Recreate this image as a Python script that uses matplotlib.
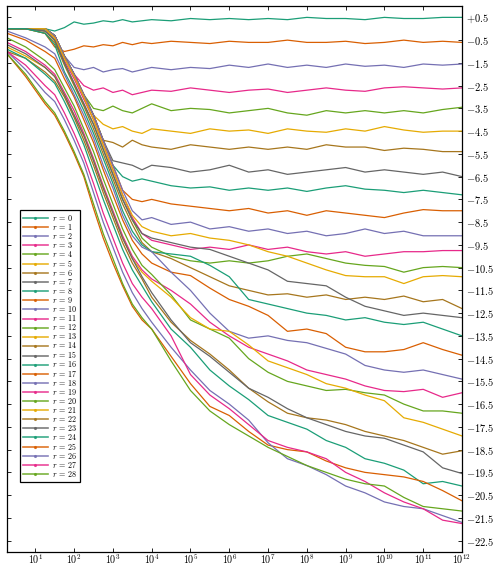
import matplotlib
matplotlib.use("Agg")
import matplotlib.pyplot as plt
from matplotlib.lines import Line2D
import numpy as np

log_steps = [0.27, 0.75, 1.25, 1.5, 1.75, 2.0, 2.25, 2.5, 2.75, 3.0, 3.25, 3.5, 3.75, 4.0,
             4.5, 5.0, 5.5, 6.0, 6.5, 7.0, 7.5, 8.0, 8.5, 9.0, 9.5, 10.0, 10.5, 11.0, 11.5, 12.0]

walk_00 = [0, 0, 0, -0.1, 0.05, 0.3, 0.2, 0.25, 0.35, 0.3, 0.4, 0.3, 0.35, 0.4,
           0.35, 0.45, 0.4, 0.45, 0.4, 0.45, 0.4, 0.5, 0.45, 0.45, 0.4, 0.5, 0.45, 0.45, 0.5, 0.5]
walk_01 = [0, 0, -0.2, -0.8, -1.0, -0.9, -0.75, -0.8, -0.7, -0.75, -0.6, -0.7, -0.6, -0.65,
           -0.55, -0.6, -0.65, -0.55, -0.6, -0.6, -0.5, -0.6, -0.6, -0.55, -0.65, -0.6, -0.5, -0.6, -0.55, -0.6]
walk_02 = [0, 0, 0, -0.3, -1.2, -1.7, -1.8, -1.7, -1.9, -1.8, -1.75, -1.9, -1.8, -1.7,
           -1.8, -1.7, -1.75, -1.6, -1.7, -1.55, -1.7, -1.6, -1.7, -1.55, -1.65, -1.6, -1.7, -1.55, -1.6, -1.55]
walk_03 = [0, 0, 0, -0.3, -1.2, -2.0, -2.5, -2.7, -2.6, -2.8, -2.7, -2.9, -2.8, -2.7,
           -2.75, -2.6, -2.7, -2.8, -2.7, -2.65, -2.8, -2.7, -2.6, -2.7, -2.75, -2.6, -2.55, -2.6, -2.65, -2.6]
walk_04 = [0, 0, 0, -0.3, -1.2, -2.0, -2.9, -3.5, -3.6, -3.4, -3.6, -3.7, -3.5, -3.3,
           -3.6, -3.5, -3.55, -3.7, -3.6, -3.5, -3.7, -3.8, -3.6, -3.7, -3.6, -3.7, -3.6, -3.7, -3.55, -3.45]
walk_05 = [0, 0, 0, -0.3, -1.2, -2.0, -2.9, -3.8, -4.2, -4.4, -4.3, -4.5, -4.6, -4.4,
           -4.5, -4.6, -4.4, -4.5, -4.45, -4.6, -4.4, -4.5, -4.55, -4.4, -4.5, -4.3, -4.45, -4.55, -4.5, -4.5]
walk_06 = [0, 0, 0, -0.3, -1.2, -2.0, -2.9, -3.8, -4.9, -5.0, -5.2, -4.9, -5.1, -5.2,
           -5.3, -5.1, -5.2, -5.3, -5.2, -5.3, -5.2, -5.3, -5.1, -5.2, -5.2, -5.35, -5.25, -5.3, -5.4, -5.4]
walk_07 = [0, 0, 0, -0.3, -1.2, -2.0, -2.9, -3.8, -4.9, -5.8, -5.9, -6.0, -6.2, -6.0,
           -6.1, -6.3, -6.2, -6.0, -6.3, -6.2, -6.4, -6.3, -6.2, -6.1, -6.3, -6.2, -6.3, -6.4, -6.3, -6.5]
walk_08 = [0, 0, 0, -0.3, -1.2, -2.0, -2.9, -3.8, -4.9, -6.0, -6.5, -6.7, -6.6, -6.7,
           -6.9, -7.0, -6.95, -7.1, -7.0, -7.1, -7.0, -7.15, -7.0, -6.9, -7.05, -7.1, -7.2, -7.1, -7.2, -7.3]
walk_09 = [0, 0, 0, -0.3, -1.2, -2.0, -2.9, -3.8, -4.9, -6.0, -7.1, -7.5, -7.6, -7.5,
           -7.7, -7.8, -7.9, -8.0, -7.9, -8.1, -8.0, -8.2, -8.0, -8.1, -8.2, -8.3, -8.1, -7.95, -8.0, -8.0]
walk_10 = [0, 0, 0, -0.3, -1.2, -2.0, -2.9, -3.8, -4.9, -6.0, -7.1, -8.0, -8.4, -8.3,
           -8.6, -8.5, -8.8, -8.7, -8.9, -8.8, -9.0, -8.9, -9.1, -9.0, -8.8, -9.0, -8.9, -9.1, -9.1, -9.1]
walk_11 = [0, 0, -0.1, -0.4, -1.4, -2.2, -3.1, -4.0, -5.1, -6.2, -7.3, -8.3, -9.0, -9.3,
           -9.5, -9.7, -9.6, -9.7, -9.5, -9.7, -9.6, -9.8, -9.9, -9.8, -10.0, -9.9, -9.8, -9.8, -9.75, -9.75]
walk_12 = [0, 0, -0.1, -0.5, -1.5, -2.4, -3.3, -4.2, -5.3, -6.4, -7.5, -8.4, -9.2, -9.6,
           -10.0, -10.2, -10.3, -10.2, -10.3, -10.2, -10.0, -9.9, -10.1, -10.3, -10.4, -10.45, -10.7, -10.5, -10.45, -10.5]
walk_13 = [0, 0, 0, -0.4, -1.3, -2.1, -3.0, -4.0, -5.1, -6.2, -7.3, -8.2, -8.7, -8.9,
           -9.1, -9.0, -9.2, -9.3, -9.5, -9.8, -10.0, -10.3, -10.6, -10.85, -10.9, -10.9, -11.2, -10.9, -10.85, -10.9]
walk_14 = [0, 0, -0.2, -0.6, -1.6, -2.5, -3.4, -4.4, -5.5, -6.6, -7.7, -8.6, -9.4, -9.8,
           -10.1, -10.5, -10.9, -11.3, -11.5, -11.7, -11.65, -11.8, -11.7, -11.9, -11.8, -11.9, -11.75, -12.0, -11.9, -12.3]
walk_15 = [0, 0, -0.1, -0.5, -1.5, -2.4, -3.3, -4.2, -5.3, -6.4, -7.5, -8.4, -9.0, -9.2,
           -9.4, -9.6, -9.7, -10.0, -10.3, -10.6, -11.1, -11.2, -11.3, -11.8, -12.2, -12.4, -12.6, -12.5, -12.6, -12.7]
walk_16 = [0, 0, -0.2, -0.7, -1.9, -2.7, -3.6, -4.6, -5.7, -6.8, -8.0, -8.9, -9.5, -9.8,
           -9.9, -10.0, -10.4, -10.9, -11.9, -12.1, -12.3, -12.5, -12.6, -12.8, -12.7, -12.9, -13.0, -12.9, -13.2, -13.5]
walk_17 = [-0.2, -0.5, -1.0, -1.3, -2.2, -3.0, -4.0, -5.0, -6.2, -7.3, -8.4, -9.3, -9.9, -10.3,
           -10.7, -10.85, -11.4, -11.9, -12.2, -12.6, -13.3, -13.2, -13.4, -14.0, -14.2, -14.2, -14.1, -13.8, -14.1, -14.35]
walk_18 = [-0.1, -0.4, -0.8, -1.1, -2.0, -2.9, -3.8, -4.8, -6.0, -7.0, -8.2, -9.1, -9.6, -9.8,
           -10.7, -11.5, -12.5, -13.3, -13.6, -13.5, -13.7, -13.8, -14.05, -14.3, -14.8, -15.0, -15.1, -15.0, -15.2, -15.4]
walk_19 = [-0.6, -1.0, -1.6, -2.0, -2.8, -3.6, -4.6, -5.7, -6.9, -8.0, -9.1, -10.0, -10.6, -11.0,
           -11.5, -12.1, -12.9, -13.5, -14.0, -14.3, -14.6, -15.0, -15.2, -15.4, -15.7, -15.9, -15.95, -15.85, -16.2, -16.0]
walk_20 = [-0.4, -0.8, -1.4, -1.8, -2.6, -3.4, -4.4, -5.4, -6.6, -7.7, -8.8, -9.7, -10.4, -10.8,
           -11.7, -12.8, -13.2, -13.6, -14.5, -15.1, -15.5, -15.7, -15.9, -15.85, -16.0, -16.1, -16.5, -16.8, -16.8, -16.9]
walk_21 = [-0.8, -1.2, -1.7, -2.1, -2.9, -3.8, -4.7, -5.8, -7.0, -8.1, -9.2, -10.1, -10.7, -11.1,
           -11.8, -12.7, -13.2, -13.3, -13.9, -14.6, -14.9, -15.2, -15.6, -15.8, -16.1, -16.35, -17.1, -17.3, -17.6, -17.9]
walk_22 = [-1.0, -1.3, -1.9, -2.3, -3.0, -3.9, -4.9, -6.0, -7.2, -8.3, -9.4, -10.3, -11.0, -11.8,
           -12.9, -13.7, -14.3, -15.0, -15.8, -16.4, -16.9, -17.1, -17.2, -17.4, -17.7, -17.9, -18.1, -18.4, -18.7, -18.55]
walk_23 = [-0.7, -1.1, -1.7, -2.1, -2.9, -3.8, -4.7, -5.8, -7.0, -8.1, -9.2, -10.1, -10.9, -11.6,
           -12.8, -13.8, -14.4, -15.1, -15.8, -16.2, -16.7, -17.1, -17.4, -17.7, -17.9, -18.0, -18.3, -18.6, -19.3, -19.55]
walk_24 = [-0.9, -1.3, -2.0, -2.4, -3.2, -4.1, -5.1, -6.3, -7.5, -8.6, -9.7, -10.6, -11.3, -12.0,
           -13.2, -14.0, -15.0, -15.7, -16.3, -17.0, -17.3, -17.6, -18.1, -18.4, -18.9, -19.1, -19.4, -20.0, -19.9, -20.1]
walk_25 = [-1.1, -2.1, -3.3, -3.8, -4.6, -5.5, -6.5, -7.9, -9.2, -10.3, -11.3, -12.2, -12.8, -13.2,
           -14.4, -15.6, -16.6, -17.0, -17.7, -18.3, -18.5, -18.6, -19.0, -19.3, -19.5, -19.6, -19.7, -19.9, -20.3, -20.75]
walk_26 = [-1.0, -1.8, -2.8, -3.2, -4.0, -4.9, -5.9, -7.2, -8.5, -9.6, -10.7, -11.6, -12.3, -12.9,
           -14.0, -15.0, -15.9, -16.5, -17.2, -18.2, -18.9, -19.2, -19.6, -20.1, -20.4, -20.8, -21.0, -21.1, -21.4, -21.7]
walk_27 = [-1.0, -1.6, -2.5, -2.9, -3.7, -4.6, -5.6, -6.8, -8.1, -9.2, -10.3, -11.2, -11.8, -12.3,
           -13.5, -15.2, -16.1, -16.7, -17.4, -18.1, -18.4, -18.6, -18.9, -19.5, -19.9, -20.4, -20.8, -21.1, -21.6, -21.75]
walk_28 = [-1.1, -2.0, -3.2, -3.7, -4.5, -5.4, -6.4, -7.7, -9.0, -10.1, -11.2, -12.1, -12.7, -13.2,
           -14.6, -15.9, -16.8, -17.4, -17.9, -18.4, -18.8, -19.2, -19.5, -19.8, -20.0, -20.1, -20.6, -21.0, -21.1, -21.2]

walks = [walk_00, walk_01, walk_02, walk_03, walk_04, walk_05, walk_06, walk_07, walk_08, walk_09,
         walk_10, walk_11, walk_12, walk_13, walk_14, walk_15, walk_16, walk_17, walk_18, walk_19,
         walk_20, walk_21, walk_22, walk_23, walk_24, walk_25, walk_26, walk_27, walk_28]

ytick_vals = [0.5 - k for k in range(24)]
xtick_vals = [10.0 ** k for k in range(1, 13)]

palette = ['#1b9e77', '#d95f02', '#7570b3', '#e7298a', '#66a61e', '#e6ab02', '#a6761d', '#666666']

plt.rcParams['mathtext.fontset'] = 'cm'
plt.rcParams['font.family'] = 'serif'

fig = plt.figure(figsize=(4.95, 5.67), dpi=100)
ax = fig.add_axes([7 / 495, 1 - 552 / 567, (462 - 7) / 495, (552 - 6) / 567])

steps = [10.0 ** v for v in log_steps]
handles = []
for r, w in enumerate(walks):
    col = palette[r % 8]
    ax.plot(steps, w, color=col, lw=0.9)
    handles.append(Line2D([], [], color=col, lw=1.2, alpha=0.85, marker='.', markersize=2.5,
                          label=rf'$r\, =\, {r}$'))

ax.set_xscale('log')
ax.set_xlim(1.86, 1e12)
ax.set_ylim(-23, 1)

ax.set_xticks(xtick_vals)
ax.set_xticklabels([rf'$10^{{{k}}}$' for k in range(1, 13)])
ax.set_yticks(ytick_vals)
ax.set_yticklabels([(r'$+%.1f$' % v) if v > 0 else (r'$%.1f$' % v) for v in ytick_vals])

ax.tick_params(which='both', direction='in', top=True, bottom=True, left=True, right=True,
               labelleft=False, labelright=True, labelsize=7.5, pad=3)
ax.tick_params(axis='x', which='both', pad=0.5, labelsize=7.2)
ax.tick_params(which='major', length=3, width=0.6)
ax.tick_params(which='minor', length=1.6, width=0.5)
ax.yaxis.set_minor_locator(matplotlib.ticker.NullLocator())
for s in ax.spines.values():
    s.set_linewidth(0.9)

leg = ax.legend(handles=handles, loc='lower left', bbox_to_anchor=(0.028, 0.128),
                borderaxespad=0, fontsize=5.8, handlelength=3.1, handletextpad=0.5,
                labelspacing=-0.12, borderpad=0.4, fancybox=False, framealpha=1,
                edgecolor='black')
leg.get_frame().set_linewidth(0.9)

fig.savefig('out.png', dpi=100)
